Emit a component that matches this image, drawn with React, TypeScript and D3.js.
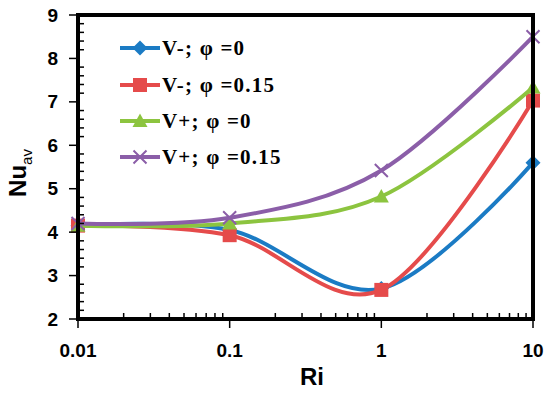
import React from "react";
import * as d3 from "d3";

const riValues = [0.01, 0.1, 1, 10];
const vMinusPhi0 = [4.15, 4.05, 2.7, 5.6];
const vMinusPhi015 = [4.15, 3.93, 2.67, 7.03];
const vPlusPhi0 = [4.15, 4.2, 4.82, 7.33];
const vPlusPhi015 = [4.2, 4.33, 5.42, 8.5];
const seriesNames = ["V-; φ =0", "V-; φ =0.15", "V+; φ =0", "V+; φ =0.15"];
const seriesColors = ["#1b7bc4", "#e54b4b", "#8cc43f", "#8b5ea8"];
const markerTypes = ["diamond", "square", "triangle", "cross"];
const xTickValues = [0.01, 0.1, 1, 10];
const xTickLabels = ["0.01", "0.1", "1", "10"];
const yTickValues = [2, 3, 4, 5, 6, 7, 8, 9];

const W = 550, H = 394;
const L = 78, R = 533, T = 15, B = 319;

function Marker({ type, x, y, color }: { type: string; x: number; y: number; color: string }) {
  if (type === "diamond") {
    const s = 7.5;
    return <path d={`M${x},${y - s}L${x + s},${y}L${x},${y + s}L${x - s},${y}Z`} fill={color} />;
  }
  if (type === "square") {
    const s = 7;
    return <rect x={x - s} y={y - s} width={2 * s} height={2 * s} fill={color} />;
  }
  if (type === "triangle") {
    const s = 7.5;
    return <path d={`M${x},${y - s}L${x + s},${y + s * 0.8}L${x - s},${y + s * 0.8}Z`} fill={color} />;
  }
  const s = 6.5;
  return (
    <path d={`M${x - s},${y - s}L${x + s},${y + s}M${x + s},${y - s}L${x - s},${y + s}`} stroke={color} strokeWidth={2} />
  );
}

export default function App() {
  const x = d3.scaleLog().domain([0.01, 10]).range([L, R]);
  const y = d3.scaleLinear().domain([2, 9]).range([B, T]);
  const allSeries = [vMinusPhi0, vMinusPhi015, vPlusPhi0, vPlusPhi015];
  const line = d3
    .line<number>()
    .x((_, i) => x(riValues[i]))
    .y((d) => y(d))
    .curve(d3.curveCardinal.tension(0));

  const xMinor: number[] = [];
  [0.01, 0.1, 1].forEach((dec) => {
    for (let k = 2; k <= 9; k++) xMinor.push(dec * k);
  });
  const yMinor: number[] = [];
  for (let v = 2; v < 9; v += 1) {
    for (let k = 1; k <= 4; k++) yMinor.push(v + k * 0.2);
  }

  const legendY = [48, 85, 121, 157];

  return (
    <svg width={W} height={H} style={{ position: "absolute", left: 0, top: 0, background: "#fff" }}>
      {allSeries.map((s, i) => (
        <g key={i}>
          <path d={line(s) || ""} fill="none" stroke={seriesColors[i]} strokeWidth={4} />
          {s.map((v, j) => (
            <Marker key={j} type={markerTypes[i]} x={x(riValues[j])} y={y(v)} color={seriesColors[i]} />
          ))}
        </g>
      ))}
      {yMinor.map((v, i) => (
        <line key={"ym" + i} x1={L} x2={L + 6} y1={y(v)} y2={y(v)} stroke="#000" strokeWidth={1.5} />
      ))}
      {xMinor.map((v, i) => (
        <line key={"xm" + i} x1={x(v)} x2={x(v)} y1={B} y2={B - 6} stroke="#000" strokeWidth={1.5} />
      ))}
      {yTickValues.map((v) => (
        <line key={"yM" + v} x1={L - 9} x2={L} y1={y(v)} y2={y(v)} stroke="#000" strokeWidth={1.5} />
      ))}
      {xTickValues.map((v) => (
        <line key={"xM" + v} x1={x(v)} x2={x(v)} y1={B} y2={B + 9} stroke="#000" strokeWidth={1.5} />
      ))}
      <rect x={L} y={T} width={R - L} height={B - T} fill="none" stroke="#000" strokeWidth={4} />
      {yTickValues.map((v) => (
        <text key={"yl" + v} x={58} y={y(v) + 6.5} textAnchor="end" fontFamily="Liberation Sans, Arial, sans-serif" fontWeight="bold" fontSize={19}>
          {v}
        </text>
      ))}
      {xTickValues.map((v, i) => (
        <text key={"xl" + v} x={x(v)} y={357} textAnchor="middle" fontFamily="Liberation Sans, Arial, sans-serif" fontWeight="bold" fontSize={19}>
          {xTickLabels[i]}
        </text>
      ))}
      <text x={312} y={385} textAnchor="middle" fontFamily="Liberation Sans, Arial, sans-serif" fontWeight="bold" fontSize={24}>
        Ri
      </text>
      <text transform="translate(26,173) rotate(-90)" textAnchor="middle" fontFamily="Liberation Sans, Arial, sans-serif" fontWeight="bold" fontSize={24}>
        Nu<tspan fontSize={15} fontWeight="normal" dy={6}>av</tspan>
      </text>
      {seriesNames.map((name, i) => (
        <g key={"lg" + i}>
          <line x1={120} x2={160} y1={legendY[i]} y2={legendY[i]} stroke={seriesColors[i]} strokeWidth={4} />
          <Marker type={markerTypes[i]} x={140} y={legendY[i]} color={seriesColors[i]} />
          <text x={162} y={legendY[i] + 6.5} fontFamily="Liberation Serif, Times New Roman, serif" fontWeight="bold" fontSize={21} letterSpacing={1.2}>
            {name}
          </text>
        </g>
      ))}
    </svg>
  );
}
